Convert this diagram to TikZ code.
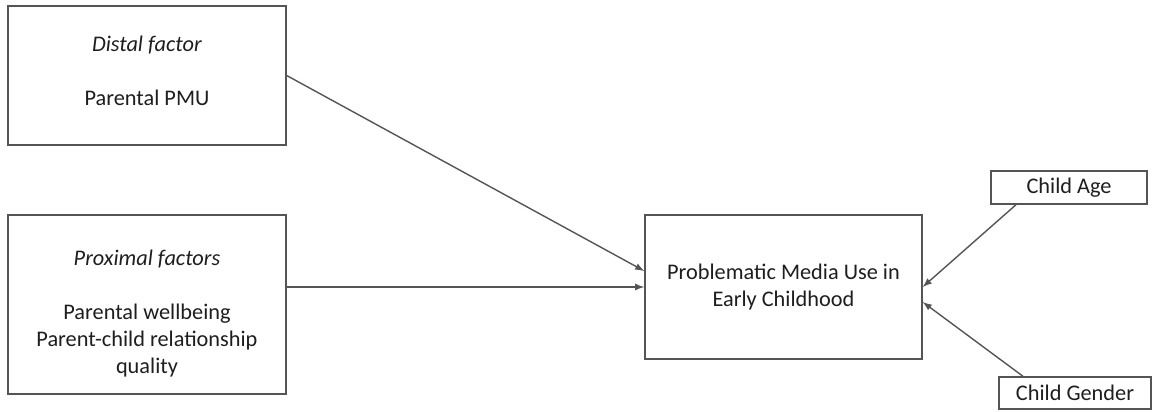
\documentclass[tikz,border=0pt]{standalone}
\usepackage{fontspec}
\setmainfont{Carlito}
\usepackage{tikz}
\usetikzlibrary{arrows, positioning, calc}
\definecolor{boxgray}{RGB}{85, 85, 85}
\definecolor{textgray}{RGB}{30, 30, 30}
\tikzset{
  factorbox/.style={rectangle, draw=boxgray, line width=0.8pt, minimum width=5.56cm, align=center, text=textgray, font=\fontsize{12.7}{15.4}\selectfont},
  outcomebox/.style={rectangle, draw=boxgray, line width=0.8pt, minimum width=5.54cm, minimum height=2.88cm, align=center, text=textgray, font=\fontsize{12.7}{15.4}\selectfont},
  covbox/.style={rectangle, draw=boxgray, line width=0.8pt, minimum height=0.66cm, text=textgray, font=\fontsize{12.7}{15.4}\selectfont},
  patharrow/.style={draw=boxgray, line width=0.8pt, -latex},
}
\begin{document}
\begin{tikzpicture}[x=0.02cm, y=-0.02cm]
\useasboundingbox (0,0) rectangle (1156,412);
% predictors
\node[factorbox, minimum height=2.78cm] (distal) at (147,75.5)
  {\textit{Distal factor}\\[15pt]Parental PMU\rule[-5.6pt]{0pt}{5.6pt}};
\node[factorbox, minimum height=3.58cm] (proximal) at (147,304.5)
  {\rule{0pt}{19pt}\textit{Proximal factors}\\[15pt]Parental wellbeing\\Parent-child relationship\\quality};
% outcome
\node[outcomebox] (pmu) at (783.5,287) {Problematic Media Use in\\Early Childhood};
% covariates
\node[covbox, minimum width=3.12cm] (age) at (1069,187.5) {Child Age};
\node[covbox, minimum width=3.04cm, minimum height=0.64cm] (gender) at (1075,393) {Child Gender};
% paths
\draw[patharrow] (distal.east) -- ([yshift=0.32cm]pmu.west);
\draw[patharrow] (pmu.west -| proximal.east) -- (pmu.west);
\draw[patharrow] ([xshift=-1.06cm]age.south) -- (pmu.east);
\draw[patharrow] ([xshift=-1.04cm]gender.north) -- ([yshift=-0.3cm]pmu.east);
\end{tikzpicture}
\end{document}
